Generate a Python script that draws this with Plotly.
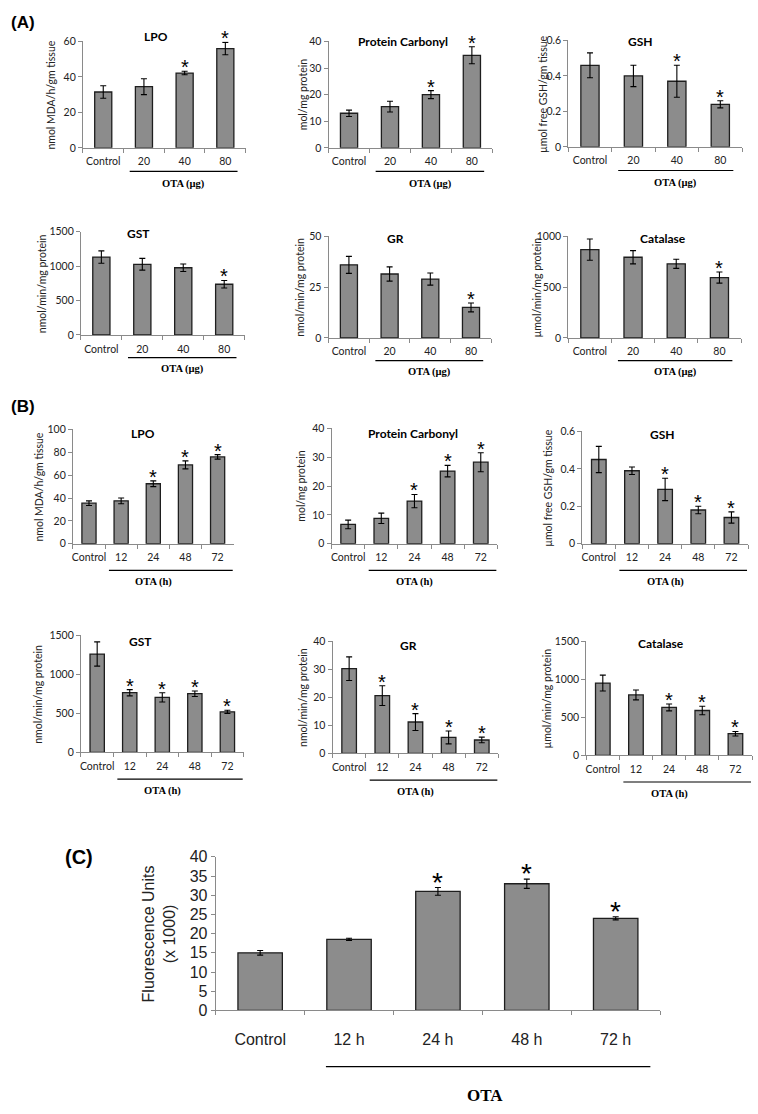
import plotly.graph_objects as go

W, H = 758, 1114

# ---------------- data ----------------
cats_A = ["Control", "20", "40", "80"]
cats_B = ["Control", "12", "24", "48", "72"]
cats_C = ["Control", "12 h", "24 h", "48 h", "72 h"]

# Panel A (dose)
a_lpo = [31.5, 34.5, 42.2, 56.0]
a_lpo_err = [3.5, 4.5, 1.0, 3.5]
a_lpo_sig = [0, 0, 1, 1]

a_pc = [13.0, 15.5, 20.0, 34.8]
a_pc_err = [1.2, 2.0, 1.5, 3.2]
a_pc_sig = [0, 0, 1, 1]

a_gsh = [0.46, 0.40, 0.37, 0.24]
a_gsh_err = [0.07, 0.06, 0.09, 0.02]
a_gsh_sig = [0, 0, 1, 1]

a_gst = [1130, 1025, 975, 735]
a_gst_err = [90, 85, 55, 55]
a_gst_sig = [0, 0, 0, 1]

a_gr = [36.0, 31.5, 29.0, 15.0]
a_gr_err = [4.2, 3.5, 3.0, 2.2]
a_gr_sig = [0, 0, 0, 1]

a_cat = [870, 795, 730, 595]
a_cat_err = [105, 65, 45, 55]
a_cat_sig = [0, 0, 0, 1]

# Panel B (time)
b_lpo = [35.5, 37.5, 52.5, 69.0, 76.0]
b_lpo_err = [2.0, 2.5, 2.5, 3.5, 2.0]
b_lpo_sig = [0, 0, 1, 1, 1]

b_pc = [6.7, 8.8, 14.8, 25.2, 28.3]
b_pc_err = [1.5, 1.8, 2.3, 2.0, 3.3]
b_pc_sig = [0, 0, 1, 1, 1]

b_gsh = [0.45, 0.39, 0.29, 0.18, 0.14]
b_gsh_err = [0.07, 0.02, 0.06, 0.02, 0.03]
b_gsh_sig = [0, 0, 1, 1, 1]

b_gst = [1260, 765, 705, 752, 520]
b_gst_err = [155, 40, 60, 35, 20]
b_gst_sig = [0, 1, 1, 1, 1]

b_gr = [30.2, 20.6, 11.2, 5.7, 4.8]
b_gr_err = [4.2, 3.5, 3.0, 2.3, 1.0]
b_gr_sig = [0, 1, 1, 1, 1]

b_cat = [950, 795, 630, 590, 285]
b_cat_err = [105, 65, 45, 55, 30]
b_cat_sig = [0, 0, 1, 1, 1]

# Panel C (fluorescence)
c_fl = [15.0, 18.5, 31.0, 33.0, 24.0]
c_fl_err = [0.6, 0.3, 1.0, 1.2, 0.4]
c_fl_sig = [0, 0, 1, 1, 1]

# ---------------- layout helpers ----------------
def px(x):
    return x / W

def py(y):
    return 1 - y / H

SANS = "Lato"
SERIF = "Liberation Serif"
ARIAL = "Liberation Sans"

panels = [
    (cats_A, a_lpo, a_lpo_err, a_lpo_sig, "LPO", "nmol MDA/h/gm tissue", [0, 60], 20,
     (82, 245, 34, 142), (155, 29), 50, "OTA (µg)"),
    (cats_A, a_pc, a_pc_err, a_pc_sig, "Protein Carbonyl", "mol/mg protein", [0, 40], 10,
     (328, 492, 34, 142), (403, 34), 302, "OTA (µg)"),
    (cats_A, a_gsh, a_gsh_err, a_gsh_sig, "GSH", "µmol free GSH/gm tissue", [0, 0.6], 0.2,
     (568, 742, 33, 141), (640, 34), 542, "OTA (µg)"),
    (cats_A, a_gst, a_gst_err, a_gst_sig, "GST", "nmol/min/mg protein", [0, 1500], 500,
     (80, 244, 227, 332), (138, 229), 41, "OTA (µg)"),
    (cats_A, a_gr, a_gr_err, a_gr_sig, "GR", "nmol/min/mg protein", [0, 50], 25,
     (328, 491, 232, 335), (395, 234), 300, "OTA (µg)"),
    (cats_A, a_cat, a_cat_err, a_cat_sig, "Catalase", "µmol/min/mg protein", [0, 1000], 500,
     (568, 741, 232, 335), (663, 234), 537, "OTA (µg)"),
    (cats_B, b_lpo, b_lpo_err, b_lpo_sig, "LPO", "nmol MDA/h/gm tissue", [0, 100], 20,
     (72, 233, 428, 544), (142, 432), 38, "OTA (h)"),
    (cats_B, b_pc, b_pc_err, b_pc_sig, "Protein Carbonyl", "mol/mg protein", [0, 40], 10,
     (331, 497, 427, 544), (413, 432), 300, "OTA (h)"),
    (cats_B, b_gsh, b_gsh_err, b_gsh_sig, "GSH", "µmol free GSH/gm tissue", [0, 0.6], 0.2,
     (582, 748, 430, 544), (662, 433), 547, "OTA (h)"),
    (cats_B, b_gst, b_gst_err, b_gst_sig, "GST", "nmol/min/mg protein", [0, 1500], 500,
     (80, 243, 637, 756), (140, 643), 37, "OTA (h)"),
    (cats_B, b_gr, b_gr_err, b_gr_sig, "GR", "nmol/min/mg protein", [0, 40], 10,
     (332, 498, 643, 757), (408, 647), 303, "OTA (h)"),
    (cats_B, b_cat, b_cat_err, b_cat_sig, "Catalase", "µmol/min/mg protein", [0, 1500], 500,
     (586, 752, 643, 759), (661, 645), 547, "OTA (h)"),
]

fig = go.Figure()
layout = dict(
    width=W, height=H, margin=dict(l=0, r=0, t=0, b=0),
    paper_bgcolor="white", plot_bgcolor="white", showlegend=False,
)
annotations = []
shapes = []

BAR_COLOR = "#8c8c8c"
EDGE = "#1e1e1e"
AXIS_COLOR = "#8a8a8a"

def add_panel(i, cats, vals, errs, sig, yrange, dtick, box, bar_w, tickfont, label_standoff,
              star_size, star_shift, group, group_font, under, lab_dy, under_dy):
    xa = "x" if i == 1 else f"x{i}"
    ya = "y" if i == 1 else f"y{i}"
    x0, x1, y0, y1 = box
    fig.add_trace(go.Bar(
        x=cats, y=vals, xaxis=xa, yaxis=ya, width=bar_w,
        marker=dict(color=BAR_COLOR, line=dict(color=EDGE, width=1.3)),
        error_y=dict(type="data", array=errs, color="black", thickness=1.1, width=3),
        hoverinfo="skip",
    ))
    for j, (v, e, s) in enumerate(zip(vals, errs, sig)):
        if s:
            annotations.append(dict(xref=xa, yref=ya, x=j, y=v + e, text="*",
                                    showarrow=False, xanchor="center", yanchor="bottom",
                                    yshift=star_shift,
                                    font=dict(family=ARIAL, size=star_size, color="black")))
    key = "xaxis" if i == 1 else f"xaxis{i}"
    ykey = "yaxis" if i == 1 else f"yaxis{i}"
    layout[key] = dict(
        domain=[px(x0), px(x1)], anchor=ya, type="category",
        range=[-0.5, len(cats) - 0.5], tickson="boundaries", ticks="outside",
        ticklen=4, tickcolor=AXIS_COLOR, showline=True, linecolor=AXIS_COLOR, linewidth=1,
        showgrid=False, zeroline=False, tickfont=tickfont, ticklabelstandoff=label_standoff,
        tickangle=0, fixedrange=True,
    )
    layout[ykey] = dict(
        domain=[py(y1), py(y0)], anchor=xa, range=yrange, dtick=dtick, tick0=0,
        ticks="outside", ticklen=4, tickcolor=AXIS_COLOR, showline=True,
        linecolor=AXIS_COLOR, linewidth=1, showgrid=False, zeroline=False,
        tickfont=tickfont, fixedrange=True,
    )
    shapes.append(dict(type="line", xref=xa, yref="paper", x0=under[0], x1=under[1],
                       y0=py(y1 + under_dy), y1=py(y1 + under_dy),
                       line=dict(color="black", width=1.2)))
    annotations.append(dict(xref=xa, yref="paper", x=under[2], y=py(y1 + lab_dy),
                            text=f"<b>{group}</b>", showarrow=False, font=group_font,
                            xanchor="center", yanchor="middle"))

small_tick = dict(family=SANS, size=10.5, color="#222")
for k, p in enumerate(panels):
    cats, vals, errs, sig, title, ytitle, yrange, dtick, box, tpos, ytx, group = p
    i = k + 1
    n = len(cats)
    if n == 4:
        under = (0.65, 3.3, 1.98)
        lab_dy, under_dy = (37, 24) if box[3] < 200 else (35, 23)
        bw = 0.42
    else:
        under = (0.62, 4.47, 2.0)
        lab_dy, under_dy = 39, 27
        bw = 0.44
    add_panel(i, cats, vals, errs, sig, yrange, dtick, box, bw, small_tick, 4, 20, -9,
              group, dict(family=SERIF, size=10.5, color="black"), under, lab_dy, under_dy)
    annotations.append(dict(xref="paper", yref="paper", x=px(tpos[0]), y=py(tpos[1]),
                            text=f"<b>{title}</b>", showarrow=False,
                            font=dict(family=SANS, size=12, color="black"),
                            xanchor="center", yanchor="middle"))
    annotations.append(dict(xref="paper", yref="paper", x=px(ytx), y=py((box[2] + box[3]) / 2),
                            text=ytitle, showarrow=False, textangle=-90,
                            font=dict(family=SANS, size=10.5, color="#222"),
                            xanchor="center", yanchor="middle"))

# Panel C
add_panel(13, cats_C, c_fl, c_fl_err, c_fl_sig, [0, 40], 5, (215, 660, 862, 1018), 0.5,
          dict(family=ARIAL, size=16, color="#222"), 14, 28, -12, "OTA",
          dict(family=SERIF, size=17, color="black"), (0.74, 4.39, 2.53), 86, 57)
annotations.append(dict(xref="paper", yref="paper", x=px(158), y=py(940),
                        text="Fluorescence Units<br>(x 1000)", showarrow=False, textangle=-90,
                        font=dict(family=ARIAL, size=16, color="#222"),
                        xanchor="center", yanchor="middle"))

for lbl, (lx, ly) in {"(A)": (22, 15), "(B)": (22, 405), "(C)": (78, 862)}.items():
    annotations.append(dict(xref="paper", yref="paper", x=px(lx), y=py(ly),
                            text=f"<b>{lbl}</b>", showarrow=False,
                            font=dict(family=ARIAL, size=17 if lbl != "(C)" else 20, color="black"),
                            xanchor="center", yanchor="middle"))

layout["annotations"] = annotations
layout["shapes"] = shapes
fig.update_layout(**layout)
fig.write_html(
    "out.html",
    config={"responsive": False, "displayModeBar": False},
    post_script="document.body.style.margin='0';document.body.style.overflow='hidden';",
)
